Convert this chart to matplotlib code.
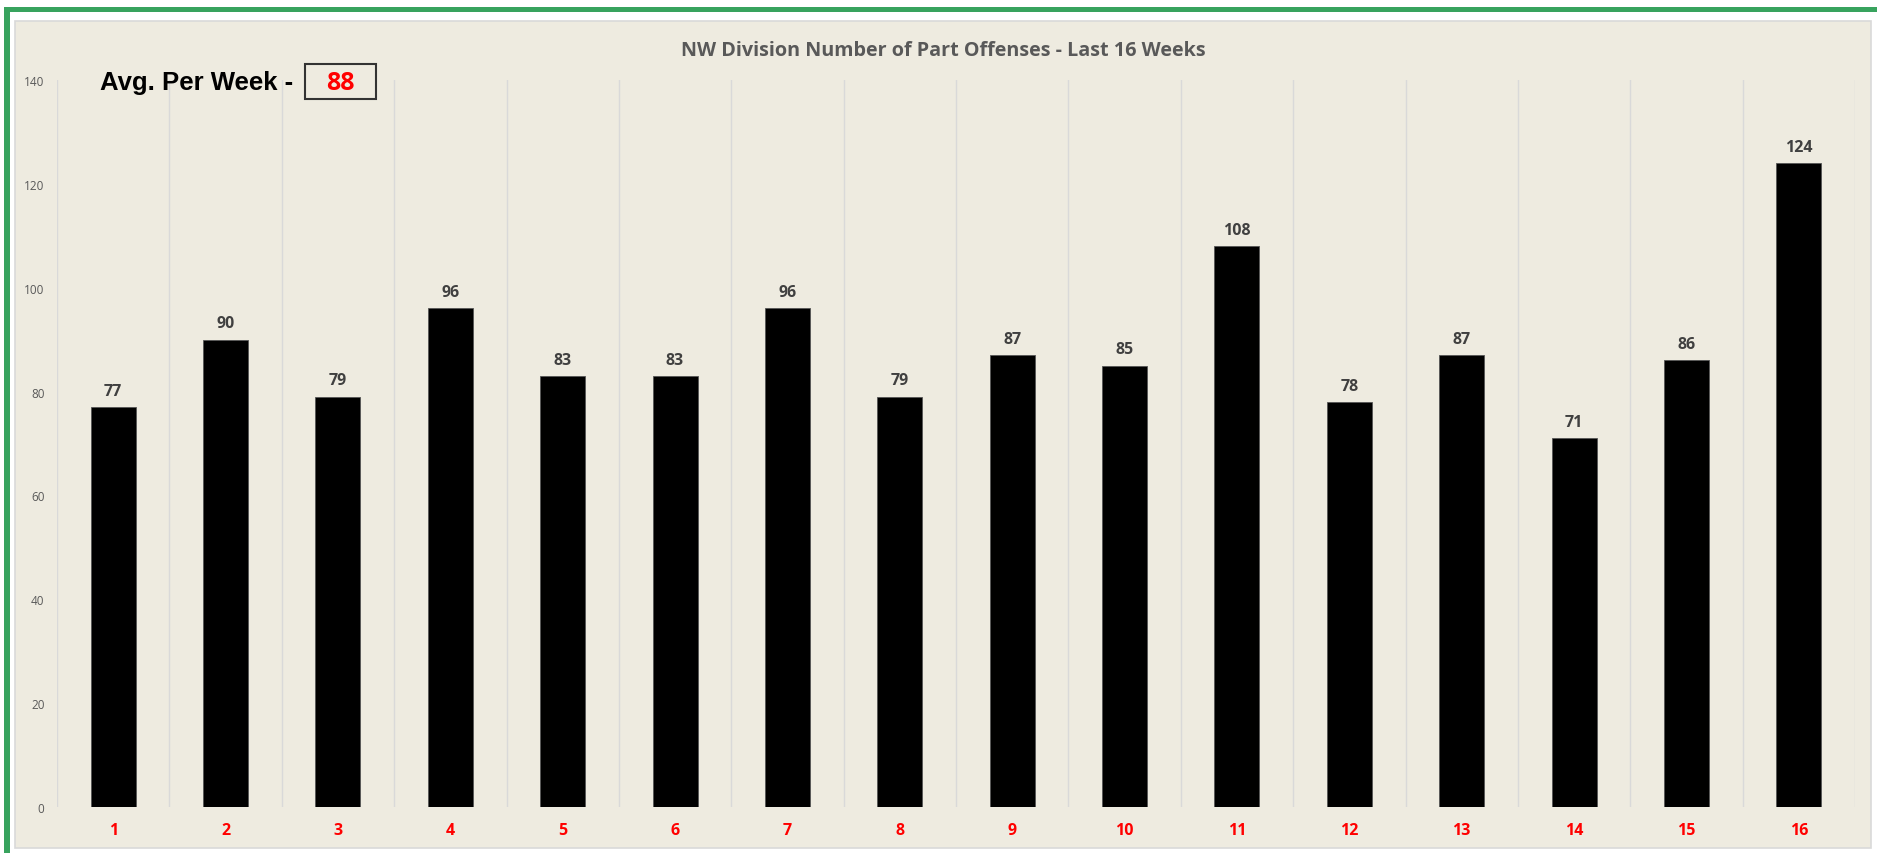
import matplotlib
matplotlib.use("Agg")
import matplotlib.pyplot as plt
from matplotlib.patches import Rectangle

weeks = [str(i) for i in range(1, 17)]
offenses = [77, 90, 79, 96, 83, 83, 96, 79, 87, 85, 108, 78, 87, 71, 86, 124]
yticks = [0, 20, 40, 60, 80, 100, 120, 140]
title = "NW Division Number of Part Offenses - Last 16 Weeks"
avg_label = "Avg. Per Week -"
avg_value = "88"

W, H = 1877, 854
fig = plt.figure(figsize=(W / 100, H / 100), dpi=100)
fig.patch.set_facecolor("white")

def fx(x):
    return x / W

def fy(y):
    return 1 - y / H

bg = "#EEEBE0"
# chart background
fig.patches.append(Rectangle((fx(15), fy(849)), fx(1871) - fx(15), fy(22) - fy(849),
                             transform=fig.transFigure, facecolor=bg, edgecolor="#D9D9D9",
                             linewidth=1.2, zorder=-2))
# green border (top and left)
green = "#38A35E"
fig.patches.append(Rectangle((fx(4), fy(13)), 1 - fx(4), fy(8) - fy(13),
                             transform=fig.transFigure, facecolor=green, edgecolor="none", zorder=-1))
fig.patches.append(Rectangle((fx(4), fy(854)), fx(10) - fx(4), fy(8) - fy(854),
                             transform=fig.transFigure, facecolor=green, edgecolor="none", zorder=-1))

ax = fig.add_axes([fx(57), fy(808), fx(1855) - fx(57), fy(81) - fy(808)])
ax.set_zorder(2)
ax.set_facecolor("none")
x = list(range(1, 17))
bars = ax.bar(x, offenses, width=0.40, color="black", edgecolor="#555555", linewidth=0.6, zorder=3)
for xi, v in zip(x, offenses):
    ax.annotate(str(v), (xi, v), xytext=(0, 6), textcoords="offset points",
                ha="center", va="bottom", fontsize=11.5, fontweight="bold",
                color="#404040", family="Open Sans")

ax.set_xlim(0.5, 16.5)
ax.set_ylim(0, 140)
ax.set_xticks(x)
ax.set_xticklabels(weeks, color="#FF0000", fontweight="bold", fontsize=11.5, family="Open Sans")
ax.set_xticks([i + 0.5 for i in range(0, 17)], minor=True)
ax.grid(True, which="minor", axis="x", color="#D9D9D9", linewidth=1.0, zorder=0)
ax.grid(False, which="major")
ax.set_axisbelow(True)
ax.set_yticks(yticks)
ax.set_yticklabels([str(t) for t in yticks], color="#595959", fontsize=8.5, family="Open Sans")
ax.tick_params(axis="both", which="both", length=0)
ax.tick_params(axis="x", pad=11)
ax.tick_params(axis="y", pad=9)
for s in ax.spines.values():
    s.set_visible(False)

fig.text(fx(943), fy(51), title, ha="center", va="center", fontsize=14.2, fontweight="bold",
         color="#595959", family="Open Sans")

fig.text(fx(100), fy(83), avg_label, ha="left", va="center", fontsize=18.5, fontweight="bold",
         color="black", family="Liberation Sans")
fig.patches.append(Rectangle((fx(305), fy(100)), fx(376) - fx(305), fy(65) - fy(100),
                             transform=fig.transFigure, facecolor=bg, edgecolor="#333333",
                             linewidth=1.5, zorder=5))
fig.text(fx(340.5), fy(84), avg_value, ha="center", va="center", fontsize=18, fontweight="bold",
         color="#FF0000", family="Open Sans", zorder=6)

fig.savefig("out.png", dpi=100, facecolor="white")
